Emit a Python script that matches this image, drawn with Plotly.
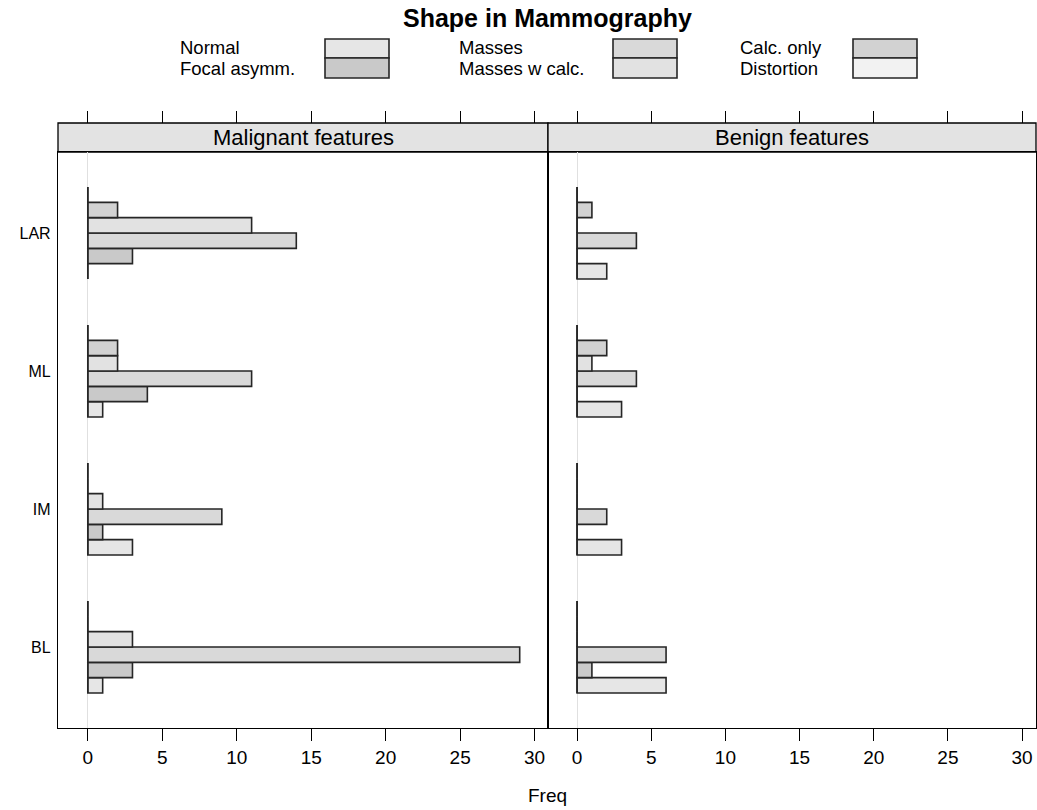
import plotly.graph_objects as go

# ---------------- data ----------------
regions = ["BL", "IM", "ML", "LAR"]
shape_types = ["Normal", "Focal asymm.", "Masses", "Masses w calc.", "Calc. only", "Distortion"]
panel_names = ["Malignant features", "Benign features"]

malignant_normal = [1, 3, 1, 0]
malignant_focal = [3, 1, 4, 3]
malignant_masses = [29, 9, 11, 14]
malignant_masses_calc = [3, 1, 2, 11]
malignant_calc_only = [0, 0, 2, 2]
malignant_distortion = [0, 0, 0, 0]

benign_normal = [6, 3, 3, 2]
benign_focal = [1, 0, 0, 0]
benign_masses = [6, 2, 4, 4]
benign_masses_calc = [0, 0, 1, 0]
benign_calc_only = [0, 0, 2, 1]
benign_distortion = [0, 0, 0, 0]

x_ticks = [0, 5, 10, 15, 20, 25, 30]

malignant = [malignant_normal, malignant_focal, malignant_masses,
             malignant_masses_calc, malignant_calc_only, malignant_distortion]
benign = [benign_normal, benign_focal, benign_masses,
          benign_masses_calc, benign_calc_only, benign_distortion]

# ---------------- styles ----------------
colors = ["#e6e6e6", "#c9c9c9", "#d9d9d9", "#e2e2e2", "#d2d2d2", "#f2f2f2"]
FONT = "Liberation Sans, Arial, Helvetica, sans-serif"
BARGAP = 1 / 3

W, H = 1037, 810
ML_, MR_, MT_, MB_ = 58, 1, 123, 82
PW = W - ML_ - MR_
PH = H - MT_ - MB_


def px(xp):
    return (xp - ML_) / PW


def py(yp):
    return (H - MB_ - yp) / PH


split = 490 / PW
ytop = py(152)

fig = go.Figure()
ypos = list(range(1, len(regions) + 1))

for pi, data in enumerate([malignant, benign]):
    xa = "x" if pi == 0 else "x2"
    ya = "y" if pi == 0 else "y2"
    for si, name in enumerate(shape_types):
        fig.add_trace(go.Bar(
            x=data[si], y=ypos, orientation="h", name=name,
            marker=dict(color=colors[si], line=dict(color="#262626", width=1.6)),
            xaxis=xa, yaxis=ya, showlegend=False,
        ))
    # baseline line through each group (lattice draws zero bars as lines)
    half = (1 - BARGAP) / 2
    lx, ly = [], []
    for c in ypos:
        lx += [0, 0, None]
        ly += [c - half, c + half, None]
    fig.add_trace(go.Scatter(x=lx, y=ly, mode="lines", line=dict(color="#262626", width=1.6),
                             xaxis=xa, yaxis=ya, showlegend=False, hoverinfo="skip"))

# invisible anchors for the top tick axes
fig.add_trace(go.Scatter(x=x_ticks, y=[ypos[0]] * len(x_ticks), mode="markers",
                         marker=dict(opacity=0), xaxis="x3", yaxis="y",
                         showlegend=False, hoverinfo="skip"))
fig.add_trace(go.Scatter(x=x_ticks, y=[ypos[0]] * len(x_ticks), mode="markers",
                         marker=dict(opacity=0), xaxis="x4", yaxis="y2",
                         showlegend=False, hoverinfo="skip"))

xcommon = dict(tickvals=x_ticks, ticks="outside", ticklen=12, tickwidth=1.2, tickcolor="black",
               showline=True, mirror=True, linecolor="black", linewidth=1.3,
               showgrid=False, zeroline=True, zerolinecolor="#e0e0e0", zerolinewidth=1,
               tickfont=dict(family=FONT, size=19, color="black"), fixedrange=True)
xtop = dict(tickvals=x_ticks, ticks="outside", ticklen=12, tickwidth=1.2, tickcolor="black",
            showticklabels=False, showline=False, showgrid=False, zeroline=False,
            side="top", anchor="free", position=1.0)

fig.update_layout(
    width=W, height=H,
    margin=dict(l=ML_, r=MR_, t=MT_, b=MB_),
    paper_bgcolor="white", plot_bgcolor="white",
    barmode="group", bargap=BARGAP, bargroupgap=0,
    xaxis=dict(domain=[0, split], range=[-2.0, 30.9], anchor="y", **xcommon),
    xaxis2=dict(domain=[split, 1], range=[-1.96, 30.94], anchor="y2", **xcommon),
    xaxis3=dict(overlaying="x", range=[-2.0, 30.9], **xtop),
    xaxis4=dict(overlaying="x2", range=[-1.96, 30.94], **xtop),
    yaxis=dict(domain=[0, ytop], range=[0.413, 4.587], tickvals=ypos, ticktext=regions,
               ticks="outside", ticklen=3, tickcolor="white", showline=True, mirror=True,
               linecolor="black", linewidth=1.3, showgrid=False, zeroline=False,
               tickfont=dict(family=FONT, size=16, color="black"), anchor="x"),
    yaxis2=dict(domain=[0, ytop], range=[0.413, 4.587], tickvals=ypos, showticklabels=False,
                ticks="", showline=True, mirror=True, linecolor="black", linewidth=1.3,
                showgrid=False, zeroline=False, anchor="x2"),
    showlegend=False,
)

shapes = []
annotations = []
# strips
for pi, name in enumerate(panel_names):
    x0, x1 = (0, split) if pi == 0 else (split, 1)
    shapes.append(dict(type="rect", xref="paper", yref="paper", x0=x0, x1=x1, y0=ytop, y1=1.0,
                       fillcolor="#e3e3e3", line=dict(color="black", width=1.3), layer="below"))
    annotations.append(dict(text=name, xref="paper", yref="paper", x=(x0 + x1) / 2,
                            y=(ytop + 1) / 2, showarrow=False, xanchor="center", yanchor="middle",
                            font=dict(family=FONT, size=22, color="black")))

# title
annotations.append(dict(text="<b>Shape in Mammography</b>", xref="paper", yref="paper",
                        x=0.5, y=py(18), showarrow=False, xanchor="center", yanchor="middle",
                        font=dict(family=FONT, size=25, color="black")))
# x label
annotations.append(dict(text="Freq", xref="paper", yref="paper", x=0.5, y=py(795),
                        showarrow=False, xanchor="center", yanchor="middle",
                        font=dict(family=FONT, size=19, color="black")))

# legend (3 columns x 2 rows)
col_text_x = [178, 457, 738]
col_rect_x = [325, 613, 853]
row_text_y = [48, 68]
row_rect_y = [(39, 58), (58, 78)]
for k, name in enumerate(shape_types):
    c, r = k // 2, k % 2
    annotations.append(dict(text=name, xref="paper", yref="paper", x=px(col_text_x[c]),
                            y=py(row_text_y[r]), showarrow=False, xanchor="left",
                            yanchor="middle", font=dict(family=FONT, size=18.5, color="black")))
    shapes.append(dict(type="rect", xref="paper", yref="paper",
                       x0=px(col_rect_x[c]), x1=px(col_rect_x[c] + 64),
                       y0=py(row_rect_y[r][1]), y1=py(row_rect_y[r][0]),
                       fillcolor=colors[k], line=dict(color="#262626", width=1.6)))

fig.update_layout(shapes=shapes, annotations=annotations)
fig.write_html("out.html", config={"displayModeBar": False},
               post_script="document.body.style.margin='0px';document.body.style.overflow='hidden';")
